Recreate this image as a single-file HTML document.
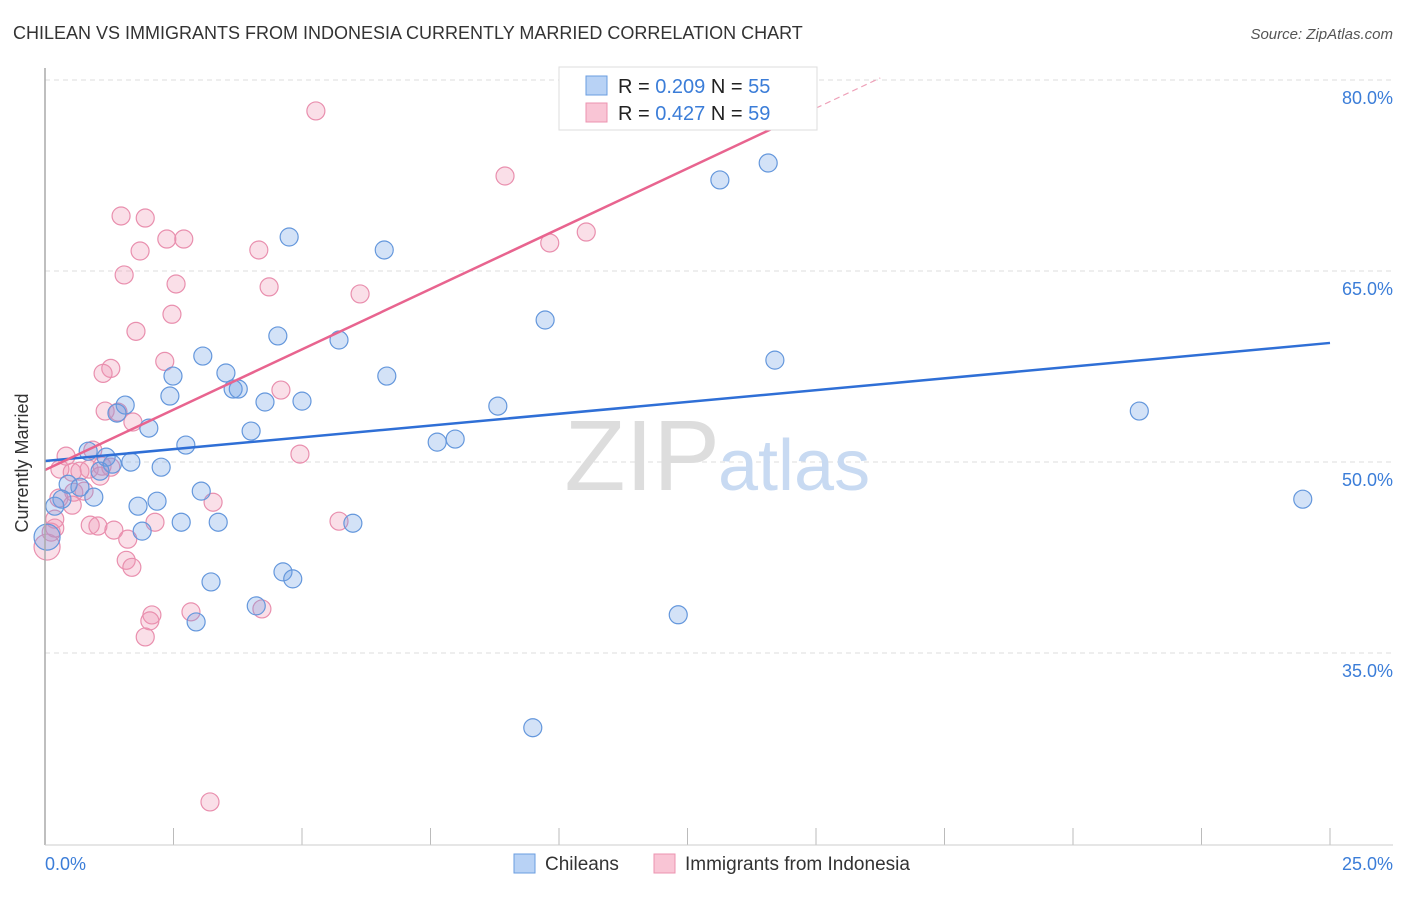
<!DOCTYPE html>
<html><head><meta charset="utf-8"><style>
body{margin:0;background:#fff;font-family:"Liberation Sans",sans-serif;}
svg text{font-family:"Liberation Sans",sans-serif;}
</style></head><body>
<svg id="chart" width="1406" height="892" xmlns="http://www.w3.org/2000/svg">
<text x="13" y="39" font-size="18" fill="#333">CHILEAN VS IMMIGRANTS FROM INDONESIA CURRENTLY MARRIED CORRELATION CHART</text>
<text x="1393" y="39" font-size="15" fill="#555" font-style="italic" text-anchor="end">Source: ZipAtlas.com</text>
<g id="grid"></g>
<text x="720" y="490" font-size="100" fill="#ddd" text-anchor="end" font-family="Liberation Serif">ZIP</text>
<text x="718" y="490" font-size="72" fill="#c8daf2">atlas</text>
<g id="points"></g>
<g id="lines"></g>
<line x1="45" y1="68" x2="45" y2="845" stroke="#aaa" stroke-width="1.5"/>
<line x1="45" y1="845" x2="1393" y2="845" stroke="#ccc" stroke-width="1"/>
<text x="20" y="455" font-size="18" fill="#333" text-anchor="middle" transform="rotate(-90 28 455)">Currently Married</text>
<text x="45" y="870" font-size="18" fill="#3b7dd8">0.0%</text>
<text x="1393" y="870" font-size="18" fill="#3b7dd8" text-anchor="end">25.0%</text>
<g>
<rect x="559" y="67" width="258" height="63" fill="#fff" stroke="#ddd"/>
<rect x="586" y="76" width="21" height="19" fill="#b8d2f5" stroke="#6a9de0"/>
<rect x="586" y="103" width="21" height="19" fill="#f9c5d5" stroke="#ec93b0"/>
<text x="618" y="93" font-size="20" fill="#222">R = <tspan fill="#3b7dd8">0.209</tspan>   N = <tspan fill="#3b7dd8">55</tspan></text>
<text x="618" y="120" font-size="20" fill="#222">R = <tspan fill="#3b7dd8">0.427</tspan>   N = <tspan fill="#3b7dd8">59</tspan></text>
</g>
<g>
<rect x="514" y="854" width="21" height="19" fill="#b8d2f5" stroke="#6a9de0"/>
<text x="545" y="870" font-size="19" fill="#333">Chileans</text>
<rect x="654" y="854" width="21" height="19" fill="#f9c5d5" stroke="#ec93b0"/>
<text x="685" y="870" font-size="19" fill="#333">Immigrants from Indonesia</text>
</g>
</svg>
<script>
const yTicks=[80,65,50,35];
const xTickVals=[0,2.5,5,7.5,10,12.5,15,17.5,20,22.5,25];
const blueX=[10.7,14.07,13.13,4.75,6.6,9.73,4.53,5.72,3.07,14.2,2.49,6.65,3.52,3.66,3.76,2.43,4.28,5.0,1.56,1.4,8.81,21.29,2.02,4.01,2.74,7.63,7.98,1.67,1.19,0.84,1.31,2.26,1.07,0.45,0.68,0.95,0.33,0.19,2.18,1.81,3.04,24.47,2.65,3.37,5.99,1.89,0.04,4.63,4.82,3.23,4.11,2.94,12.32,9.49];
const blueY=[77.96,73.48,72.15,67.67,66.65,61.15,59.9,59.58,58.32,58.0,56.75,56.75,56.99,55.73,55.73,55.18,54.71,54.78,54.47,53.84,54.39,54.0,52.66,52.43,51.33,51.56,51.8,49.99,50.38,50.85,49.83,49.59,49.28,48.25,48.02,47.24,47.08,46.53,46.92,46.53,47.71,47.08,45.27,45.27,45.19,44.57,44.1,41.37,40.82,40.58,38.7,37.44,38.0,29.13];
const pinkX=[5.27,8.95,1.48,1.95,1.85,2.37,2.7,10.53,9.82,4.16,1.54,2.55,4.36,6.13,2.47,1.77,2.33,1.28,1.13,4.59,1.17,1.42,1.71,0.93,0.41,4.96,0.29,0.53,0.68,0.86,1.11,1.28,1.07,0.56,0.76,0.27,0.53,0.19,0.88,1.03,1.34,5.72,2.14,3.27,1.61,0.12,0.04,1.58,1.69,2.08,2.04,2.84,4.22,1.95,3.21,0.19];
const pinkY=[77.57,72.46,69.32,69.16,66.57,67.51,67.51,68.06,67.2,66.65,64.69,63.98,63.75,63.2,61.6,60.26,57.9,57.35,56.96,55.65,54.0,53.92,53.14,50.93,50.46,50.62,49.44,49.2,49.28,49.44,49.67,49.59,48.89,47.63,47.71,47.16,46.61,45.51,45.04,44.97,44.65,45.35,45.27,46.84,43.94,44.49,43.32,42.28,41.73,37.99,37.52,38.23,38.46,36.26,23.3,44.81];
const blueTrend=[50.08,59.35];
const pinkTrend=[49.37,80.16];
const X0=45,X1=1330,Y80=80,PX=12.733;
const sx=v=>X0+(X1-X0)*v/25;
const sy=v=>Y80+(80-v)*PX;
const NS='http://www.w3.org/2000/svg';
function mk(t,a,p){const e=document.createElementNS(NS,t);for(const k in a)e.setAttribute(k,a[k]);p.appendChild(e);return e;}
const grid=document.getElementById('grid');
yTicks.forEach(v=>{
 const l=mk('line',{x1:45,x2:1393,y1:sy(v),y2:sy(v),stroke:'#ddd','stroke-dasharray':'5,4'},grid);
 
 
 const t=mk('text',{x:1393,y:sy(v)+24,'font-size':18,fill:'#3b7dd8','text-anchor':'end'},grid);
 t.textContent=v.toFixed(1)+'%';
 
 
});
xTickVals.forEach(v=>{
 const l=mk('line',{x1:sx(v),x2:sx(v),y1:828,y2:845,stroke:'#bbb'},grid);
 
 
});
const pts=document.getElementById('points');
function drawPts(xs,ys,fill,stroke,name){
 xs.forEach((x,i)=>{
  const big=x<0.1;
  const c=mk('circle',{cx:sx(x),cy:sy(ys[i]),r:big?13:9,fill:fill,stroke:stroke,'stroke-width':1.2},pts);
  
  
 });
}
drawPts(pinkX,pinkY,'rgba(240,150,180,0.3)','#e98fae','indonesia-point');
drawPts(blueX,blueY,'rgba(110,160,230,0.3)','#6497dc','chilean-point');
const lines=document.getElementById('lines');
const bl=mk('line',{x1:sx(0),y1:sy(blueTrend[0]),x2:sx(25),y2:sy(blueTrend[1]),stroke:'#2f6fd6','stroke-width':2.5},lines);


const pEnd=16.25,pSolid=15;
const py=v=>pinkTrend[0]+(pinkTrend[1]-pinkTrend[0])*v/pEnd;
const pl=mk('line',{x1:sx(0),y1:sy(py(0)),x2:sx(pSolid),y2:sy(py(pSolid)),stroke:'#e8648f','stroke-width':2.5},lines);


const pd=mk('line',{x1:sx(pSolid),y1:sy(py(pSolid)),x2:sx(pEnd),y2:sy(py(pEnd)),stroke:'#eea0b8','stroke-width':1.2,'stroke-dasharray':'6,4'},lines);


</script>
</body></html>
